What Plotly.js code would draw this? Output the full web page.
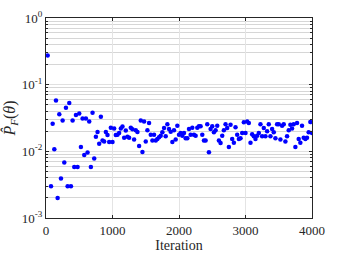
<!DOCTYPE html>
<html>
<head>
<meta charset="utf-8">
<script src="https://cdn.plot.ly/plotly-3.0.1.min.js"></script>
<style>
  html, body { margin: 0; padding: 0; background: #fff; }
  #graph { width: 345px; height: 255px; }
</style>
</head>
<body>
<div id="graph"></div>
<script>
// iteration numbers (x) of each estimate
var iterations = [
  25, 75, 100, 125, 150, 175, 200, 225, 250, 275, 300, 325, 350, 375, 400, 425,
  450, 475, 500, 525, 550, 575, 600, 625, 650, 675, 700, 725, 750, 775, 800, 825,
  850, 875, 900, 925, 950, 975, 1000, 1025, 1050, 1075, 1100, 1125, 1150, 1175,
  1200, 1225, 1250, 1275, 1300, 1325, 1350, 1375, 1400, 1425, 1450, 1475, 1500,
  1525, 1550, 1575, 1600, 1625, 1650, 1675, 1700, 1725, 1750, 1775, 1800, 1825,
  1850, 1875, 1900, 1925, 1950, 1975, 2000, 2025, 2050, 2075, 2100, 2125, 2150,
  2175, 2200, 2225, 2250, 2275, 2300, 2325, 2350, 2375, 2400, 2425, 2450, 2475,
  2500, 2525, 2550, 2575, 2600, 2625, 2650, 2675, 2700, 2725, 2750, 2775, 2800,
  2825, 2850, 2875, 2900, 2925, 2950, 2975, 3000, 3025, 3050, 3075, 3100, 3125,
  3150, 3175, 3200, 3225, 3250, 3275, 3300, 3325, 3350, 3375, 3400, 3425, 3450,
  3475, 3500, 3525, 3550, 3575, 3600, 3625, 3650, 3675, 3700, 3725, 3750, 3775,
  3800, 3825, 3850, 3875, 3900, 3925, 3950, 3975, 4000
];

// estimated failure probability at each iteration
var pf = [
  0.275, 0.003, 0.026, 0.0107, 0.058, 0.002, 0.036, 0.0039, 0.029, 0.0068, 0.045, 0.003, 0.053, 0.003, 0.029, 0.0058,
  0.035, 0.0058, 0.037, 0.0116, 0.031, 0.0088, 0.031, 0.0096, 0.028, 0.0058, 0.038, 0.0078, 0.0166, 0.0195, 0.013, 0.033,
  0.0146, 0.014, 0.0195, 0.0176, 0.0138, 0.0225, 0.0138, 0.022, 0.0176, 0.0178, 0.0188, 0.022, 0.0236, 0.016,
  0.0205, 0.0165, 0.016, 0.0225, 0.0215, 0.015, 0.0207, 0.0195, 0.012, 0.029, 0.0098, 0.028, 0.014,
  0.0207, 0.0266, 0.0178, 0.0145, 0.0178, 0.0145, 0.0153, 0.0162, 0.0172, 0.0193, 0.0224, 0.0168, 0.0254,
  0.0216, 0.0197, 0.0138, 0.0207, 0.015, 0.0243, 0.0178, 0.0188, 0.0172, 0.0188, 0.0157, 0.0157, 0.0216,
  0.0178, 0.0226, 0.0178, 0.0172, 0.0226, 0.0237, 0.0237, 0.0178, 0.0146, 0.0146, 0.0254, 0.0097, 0.0216,
  0.0237, 0.0193, 0.0207, 0.0243, 0.0146, 0.0133, 0.0172, 0.0207, 0.0254, 0.0224, 0.0116, 0.0251, 0.0153,
  0.0135, 0.023, 0.0178, 0.0153, 0.0157, 0.0188, 0.0272, 0.0188, 0.028, 0.0266, 0.0135, 0.018, 0.0168,
  0.0153, 0.0172, 0.0188, 0.0254, 0.0168, 0.0224, 0.0168, 0.02, 0.0254, 0.0168, 0.0216, 0.0193, 0.0157,
  0.0254, 0.0254, 0.015, 0.0243, 0.0254, 0.0141, 0.0168, 0.0207, 0.0251, 0.022, 0.0254, 0.0116, 0.0266,
  0.0153, 0.0135, 0.0243, 0.016, 0.0153, 0.016, 0.0193, 0.0275, 0.0188
];

// axis ticks
var xTicks = [0, 1000, 2000, 3000, 4000];
var yTicks = [0.001, 0.01, 0.1, 1];
var yTickText = ['10<sup>-3</sup>', '10<sup>-2</sup>', '10<sup>-1</sup>', '10<sup>0</sup>'];

var serif = 'Liberation Serif';
var ink = '#262626';

var trace = {
  x: iterations,
  y: pf,
  type: 'scatter',
  mode: 'markers',
  marker: { color: '#0000ff', size: 4.5 },
  hoverinfo: 'skip'
};

var layout = {
  width: 345,
  height: 255,
  margin: { l: 46, r: 33, t: 18, b: 37 },
  paper_bgcolor: '#fff',
  plot_bgcolor: '#fff',
  showlegend: false,
  font: { family: serif, size: 12, color: ink },
  xaxis: {
    range: [0, 4000],
    tickvals: xTicks,
    ticks: 'inside',
    ticklen: 3,
    tickcolor: ink,
    showline: true,
    linecolor: ink,
    linewidth: 1,
    mirror: 'ticks',
    showgrid: true,
    gridcolor: '#e4e4e4',
    zeroline: false,
    tickfont: { family: serif, size: 13, color: ink },
    title: { text: 'Iteration', font: { family: serif, size: 14, color: ink }, standoff: 0 }
  },
  yaxis: {
    type: 'log',
    range: [-3, 0],
    tickvals: yTicks,
    ticktext: yTickText,
    ticks: 'inside',
    ticklen: 3,
    tickcolor: ink,
    showline: true,
    linecolor: ink,
    linewidth: 1,
    mirror: 'ticks',
    showgrid: true,
    gridcolor: '#e0e0e0',
    zeroline: false,
    tickfont: { family: serif, size: 13, color: ink },
    minor: { dtick: 'D1', showgrid: true, gridcolor: '#d6d6d6', ticks: 'inside', ticklen: 2, tickcolor: ink },
    title: {
      text: '<i>P\u0302</i><sub><i>F</i></sub>(<i>\u03b8</i>)',
      font: { family: serif, size: 16, color: ink },
      standoff: 3
    }
  }
};

Plotly.newPlot('graph', [trace], layout, { displayModeBar: false, staticPlot: true });
</script>
</body>
</html>
